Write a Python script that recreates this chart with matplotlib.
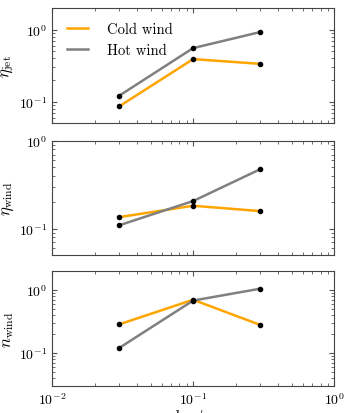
import matplotlib
matplotlib.use("Agg")
import matplotlib.pyplot as plt
import numpy as np

# Data
h_over_r = [0.03, 0.1, 0.3]

eta_jet_cold = [0.086, 0.39, 0.335]
eta_jet_hot = [0.121, 0.555, 0.93]

eta_wind_cold = [0.135, 0.182, 0.158]
eta_wind_hot = [0.109, 0.206, 0.477]

n_wind_cold = [0.286, 0.70, 0.279]
n_wind_hot = [0.121, 0.68, 1.05]

plt.rcParams['font.family'] = 'serif'
plt.rcParams['font.serif'] = ['cmr10', 'DejaVu Serif']
plt.rcParams['mathtext.fontset'] = 'cm'
plt.rcParams['axes.formatter.use_mathtext'] = True

cold_color = '#FFA500'
hot_color = '#808080'

fig = plt.figure(figsize=(3.54, 4.14), dpi=100)

left, width = 0.147, 0.797
panels = [
    (0.700, 0.278, eta_jet_cold, eta_jet_hot, (0.05, 2), r'$\eta_{\rm jet}$'),
    (0.382, 0.275, eta_wind_cold, eta_wind_hot, (0.05, 1), r'$\eta_{\rm wind}$'),
    (0.065, 0.278, n_wind_cold, n_wind_hot, (0.03, 2), r'$n_{\rm wind}$'),
]

for i, (bottom, height, cold, hot, ylim, ylabel) in enumerate(panels):
    ax = fig.add_axes([left, bottom, width, height])
    ax.plot(h_over_r, cold, color=cold_color, lw=1.8, label='Cold wind')
    ax.plot(h_over_r, hot, color=hot_color, lw=1.8, label='Hot wind')
    ax.plot(h_over_r, cold, 'o', color='k', ms=3)
    ax.plot(h_over_r, hot, 'o', color='k', ms=3)
    ax.set_xscale('log')
    ax.set_yscale('log')
    ax.set_xlim(0.01, 1)
    ax.set_ylim(*ylim)
    ax.set_ylabel(ylabel, fontsize=12, labelpad=2)
    ax.tick_params(which='both', direction='in', top=True, right=True,
                   labelsize=10, color='#555555')
    for s in ax.spines.values():
        s.set_color('#444444')
    if i < 2:
        ax.set_xticklabels([])
    else:
        ax.set_xlabel(r'$h_{\rm th}/r$', fontsize=12, labelpad=0)
    if i == 0:
        ax.legend(loc='upper left', frameon=False, fontsize=10.5,
                  handlelength=1.5, handletextpad=1.3, labelspacing=0.45,
                  borderaxespad=0.6)

plt.savefig('out.png', dpi=100)
